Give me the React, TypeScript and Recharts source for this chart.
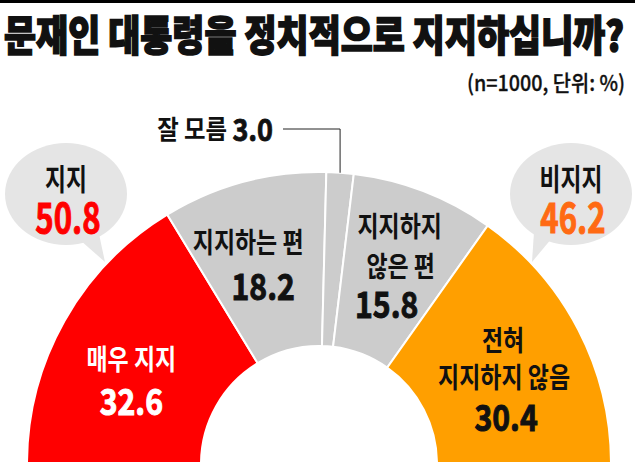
import { PieChart, Pie, Cell } from "recharts";

const categories = ["매우 지지", "지지하는 편", "잘 모름", "지지하지 않은 편", "전혀 지지하지 않음"];
const values = [32.6, 18.2, 3.0, 15.8, 30.4];
// how each slice name is broken into lines inside the slice
const sliceLines = [["매우 지지"], ["지지하는 편"], [], ["지지하지", "않은 편"], ["전혀", "지지하지 않음"]];
const groupNames = ["지지", "비지지"];
const groupValues = [50.8, 46.2];

const sliceColors = ["#FF0000", "#CCCCCC", "#CCCCCC", "#CCCCCC", "#FF9F00"];
const sliceTextColors = ["#FFFFFF", "#111111", "#111111", "#111111", "#111111"];
const groupColors = ["#FF0000", "#FF6A13"];

// nudges from each slice centroid, to sit labels like the print layout
const lineNudges = [[[-9, -6]], [[-18, -26]], [], [[7, -48], [8, -8]], [[2, -31], [3, 6]]];
const numberNudges = [[-9, 36], [-3, 18], [0, 0], [-6, 30], [5, 46]];

const data = categories.map((name, i) => ({ name, value: values[i] }));

const RADIAN = Math.PI / 180;
const FONT = "'Noto Sans CJK KR', 'Noto Sans', sans-serif";

function polar(cx: number, cy: number, r: number, angle: number) {
  return { x: cx + r * Math.cos(-angle * RADIAN), y: cy + r * Math.sin(-angle * RADIAN) };
}

function Squeezed({ x, y, sx, size, weight, fill, heavy = 0, anchor = "middle", children }: any) {
  return (
    <g transform={`translate(${x},${y}) scale(${sx},1)`}>
      <text
        x={0}
        y={0}
        textAnchor={anchor}
        dominantBaseline="central"
        fontFamily={FONT}
        fontSize={size}
        fontWeight={weight}
        fill={fill}
        stroke={heavy ? fill : "none"}
        strokeWidth={heavy}
      >
        {children}
      </text>
    </g>
  );
}

function renderLabel(props: any) {
  const { cx, cy, midAngle, innerRadius, outerRadius, index, value } = props;

  if (index === 2) {
    // small slice: leader line up and left, label outside
    const p = polar(cx, cy, outerRadius, midAngle);
    const topY = 129;
    const leftX = 283;
    return (
      <g>
        <polyline
          points={`${p.x},${p.y} ${p.x},${topY} ${leftX},${topY}`}
          fill="none"
          stroke="#222"
          strokeWidth={1}
        />
        <g transform={`translate(${leftX - 10},${topY - 2}) scale(0.9,1)`}>
          <text x={0} y={0} textAnchor="end" dominantBaseline="central" fontFamily={FONT} fill="#111">
            <tspan fontSize={26} fontWeight={700}>{categories[index]} </tspan>
            <tspan fontSize={30} fontWeight={700} stroke="#111" strokeWidth={0.8}>
              {value.toFixed(1)}
            </tspan>
          </text>
        </g>
      </g>
    );
  }

  const c = polar(cx, cy, (innerRadius + outerRadius) / 2, midAngle);
  const color = sliceTextColors[index];
  return (
    <g>
      {sliceLines[index].map((line, k) => (
        <Squeezed
          key={k}
          x={c.x + lineNudges[index][k][0]}
          y={c.y + lineNudges[index][k][1]}
          sx={0.82}
          size={28}
          weight={700}
          fill={color}
        >
          {line}
        </Squeezed>
      ))}
      <Squeezed
        x={c.x + numberNudges[index][0]}
        y={c.y + numberNudges[index][1]}
        sx={0.84}
        size={36}
        weight={700}
        fill={color}
        heavy={1}
      >
        {value.toFixed(1)}
      </Squeezed>
    </g>
  );
}

function Bubble({ cx, cy, tail, name, value, color }: any) {
  return (
    <g>
      <ellipse cx={cx} cy={cy} rx={61} ry={51} fill="#E5E5E5" />
      <polygon points={tail} fill="#E5E5E5" />
      <Squeezed x={cx} y={cy - 17} sx={0.76} size={30} weight={700} fill="#111">
        {name}
      </Squeezed>
      <Squeezed x={cx + 2} y={cy + 21} sx={0.76} size={41} weight={700} fill={color} heavy={1}>
        {value.toFixed(1)}
      </Squeezed>
    </g>
  );
}

export default function App() {
  return (
    <div
      style={{
        position: "absolute",
        left: 0,
        top: 0,
        width: 635,
        height: 462,
        overflow: "hidden",
        background: "#fff",
      }}
    >
      <div style={{ position: "absolute", left: 0, top: 0 }}>
        <PieChart width={635} height={462} margin={{ top: 0, right: 0, bottom: 0, left: 0 }}>
          <Pie
            data={data}
            dataKey="value"
            nameKey="name"
            cx={319}
            cy={464}
            startAngle={180}
            endAngle={0}
            innerRadius={118}
            outerRadius={292}
            stroke="#FFFFFF"
            strokeWidth={2}
            label={renderLabel}
            labelLine={false}
            isAnimationActive={false}
          >
            {data.map((d, i) => (
              <Cell key={d.name} fill={sliceColors[i]} />
            ))}
          </Pie>
        </PieChart>
      </div>

      <svg
        width={635}
        height={462}
        style={{ position: "absolute", left: 0, top: 0, pointerEvents: "none" }}
      >
        <rect x={0} y={0} width={635} height={3} fill="#000" />
        <text
          x={4}
          y={51}
          fontFamily={FONT}
          fontSize={42}
          fontWeight={900}
          fill="#111"
          stroke="#111"
          strokeWidth={1.6}
          textLength={620}
          lengthAdjust="spacingAndGlyphs"
        >
          문재인 대통령을 정치적으로 지지하십니까?
        </text>
        <text
          x={625}
          y={91}
          textAnchor="end"
          fontFamily={FONT}
          fontSize={22}
          fontWeight={500}
          fill="#111"
          stroke="#111"
          strokeWidth={0.3}
          textLength={158}
          lengthAdjust="spacingAndGlyphs"
        >
          (n=1000, 단위: %)
        </text>

        <Bubble
          cx={66}
          cy={194}
          tail="80,240 99,234 105,262"
          name={groupNames[0]}
          value={groupValues[0]}
          color={groupColors[0]}
        />
        <Bubble
          cx={571}
          cy={194}
          tail="534,232 552,238 532,262"
          name={groupNames[1]}
          value={groupValues[1]}
          color={groupColors[1]}
        />
      </svg>
    </div>
  );
}
